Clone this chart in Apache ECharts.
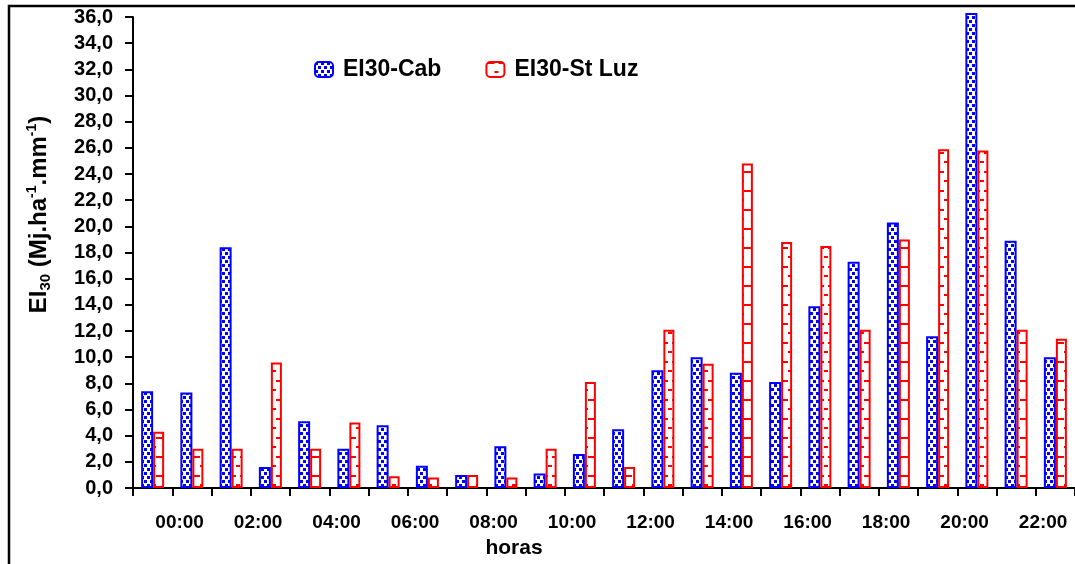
<!DOCTYPE html>
<html>
<head>
<meta charset="utf-8">
<script src="https://cdn.jsdelivr.net/npm/echarts@6/dist/echarts.min.js"></script>
<style>
html,body{margin:0;padding:0;background:#fff;}
#chart{width:1075px;height:564px;}
</style>
</head>
<body>
<div id="chart"></div>
<script>
const hours = ['00:00','01:00','02:00','03:00','04:00','05:00','06:00','07:00','08:00','09:00','10:00','11:00',
               '12:00','13:00','14:00','15:00','16:00','17:00','18:00','19:00','20:00','21:00','22:00','23:00'];
const seriesNames = ['EI30-Cab', 'EI30-St Luz'];
const cab   = [7.4, 7.3, 18.4, 1.6, 5.1, 3.0, 4.8, 1.7, 1.0, 3.2, 1.1, 2.6,
               4.5, 9.0, 10.0, 8.8, 8.1, 13.9, 17.3, 20.3, 11.6, 36.3, 18.9, 10.0];
const stLuz = [4.3, 3.0, 3.0, 9.6, 3.0, 5.0, 0.9, 0.8, 1.0, 0.8, 3.0, 8.1,
               1.6, 12.1, 9.5, 24.8, 18.8, 18.5, 12.1, 19.0, 25.9, 25.8, 12.1, 11.4];
const yMin = 0, yMax = 36, yStep = 2;

function bluePattern() {
  const c = document.createElement('canvas'); c.width = 6; c.height = 8;
  const g = c.getContext('2d');
  g.fillStyle = '#ffffff'; g.fillRect(0, 0, 6, 8);
  g.fillStyle = '#0000ff';
  g.fillRect(0, 0, 3, 3); g.fillRect(3, 4, 3, 3);
  return c;
}
function redPattern() {
  const c = document.createElement('canvas'); c.width = 12; c.height = 19;
  const g = c.getContext('2d');
  g.fillStyle = '#ffffff'; g.fillRect(0, 0, 12, 19);
  g.fillStyle = '#ff0000';
  g.fillRect(0, 0, 8, 2);
  g.fillRect(8, 9, 4, 2);
  return c;
}

const FONT = "'Liberation Sans', Arial, Helvetica, sans-serif";
const chart = echarts.init(document.getElementById('chart'), null, {renderer: 'canvas'});
chart.setOption({
  animation: false,
  backgroundColor: '#ffffff',
  textStyle: {fontFamily: FONT},
  graphic: [{
    type: 'rect', silent: true, z: -1,
    shape: {x: 9, y: 6, width: 1200, height: 700},
    style: {fill: 'none', stroke: '#000', lineWidth: 2.5}
  }],
  legend: {
    left: 314, top: 58, itemWidth: 18, itemHeight: 15, itemGap: 44, padding: 0,
    textStyle: {fontSize: 23, fontWeight: 'bold', color: '#000', fontFamily: FONT, padding: [0, 0, 0, 5]},
    data: seriesNames
  },
  grid: {left: 133, top: 17, right: -8, bottom: 72, containLabel: false},
  xAxis: {
    type: 'category', data: hours, position: 'bottom',
    boundaryGap: true,
    axisLine: {lineStyle: {color: '#000', width: 2}},
    axisTick: {show: true, interval: 0, length: 8, lineStyle: {color: '#000', width: 2}},
    axisLabel: {
      interval: 1, margin: 25, fontSize: 19, fontWeight: 'bold', color: '#000', fontFamily: FONT,
      padding: [0, 0, 0, 54]
    },
    name: 'horas', nameLocation: 'middle', nameGap: 50,
    nameTextStyle: {fontSize: 21, fontWeight: 'bold', color: '#000', fontFamily: FONT, padding: [0, 180, 0, 0]}
  },
  yAxis: {
    type: 'value', min: yMin, max: yMax, interval: yStep,
    axisLine: {show: true, lineStyle: {color: '#000', width: 2}},
    axisTick: {show: true, length: 8, lineStyle: {color: '#000', width: 2}},
    splitLine: {show: false},
    axisLabel: {
      margin: 20, fontSize: 20, fontWeight: 'bold', color: '#000', fontFamily: FONT,
      formatter: v => v.toFixed(1).replace('.', ',')
    },
    name: '{a|EI}{sub|30}{a| (Mj.ha}{sup|-1}{a|.mm}{sup|-1}{a|)}',
    nameLocation: 'middle', nameGap: 80,
    nameTextStyle: {
      padding: [0, 0, 0, 76],
      rich: {
        a: {fontSize: 24, fontWeight: 'bold', color: '#000', fontFamily: FONT, lineHeight: 28},
        sub: {fontSize: 15, fontWeight: 'bold', color: '#000', fontFamily: FONT, verticalAlign: 'bottom', lineHeight: 28, padding: [10, 0, 0, 0]},
        sup: {fontSize: 14, fontWeight: 'bold', color: '#000', fontFamily: FONT, verticalAlign: 'top', lineHeight: 28, padding: [0, 0, 10, 0]}
      }
    }
  },
  series: [
    {
      name: seriesNames[0], type: 'bar', data: cab, barWidth: 12, barGap: '0%', clip: false,
      itemStyle: {color: {image: bluePattern(), repeat: 'repeat'}, borderColor: '#0000ff', borderWidth: 2}
    },
    {
      name: seriesNames[1], type: 'bar', data: stLuz, barWidth: 11, barGap: '0%', clip: false,
      itemStyle: {color: {image: redPattern(), repeat: 'repeat'}, borderColor: '#ff0000', borderWidth: 2}
    }
  ]
});
</script>
</body>
</html>
